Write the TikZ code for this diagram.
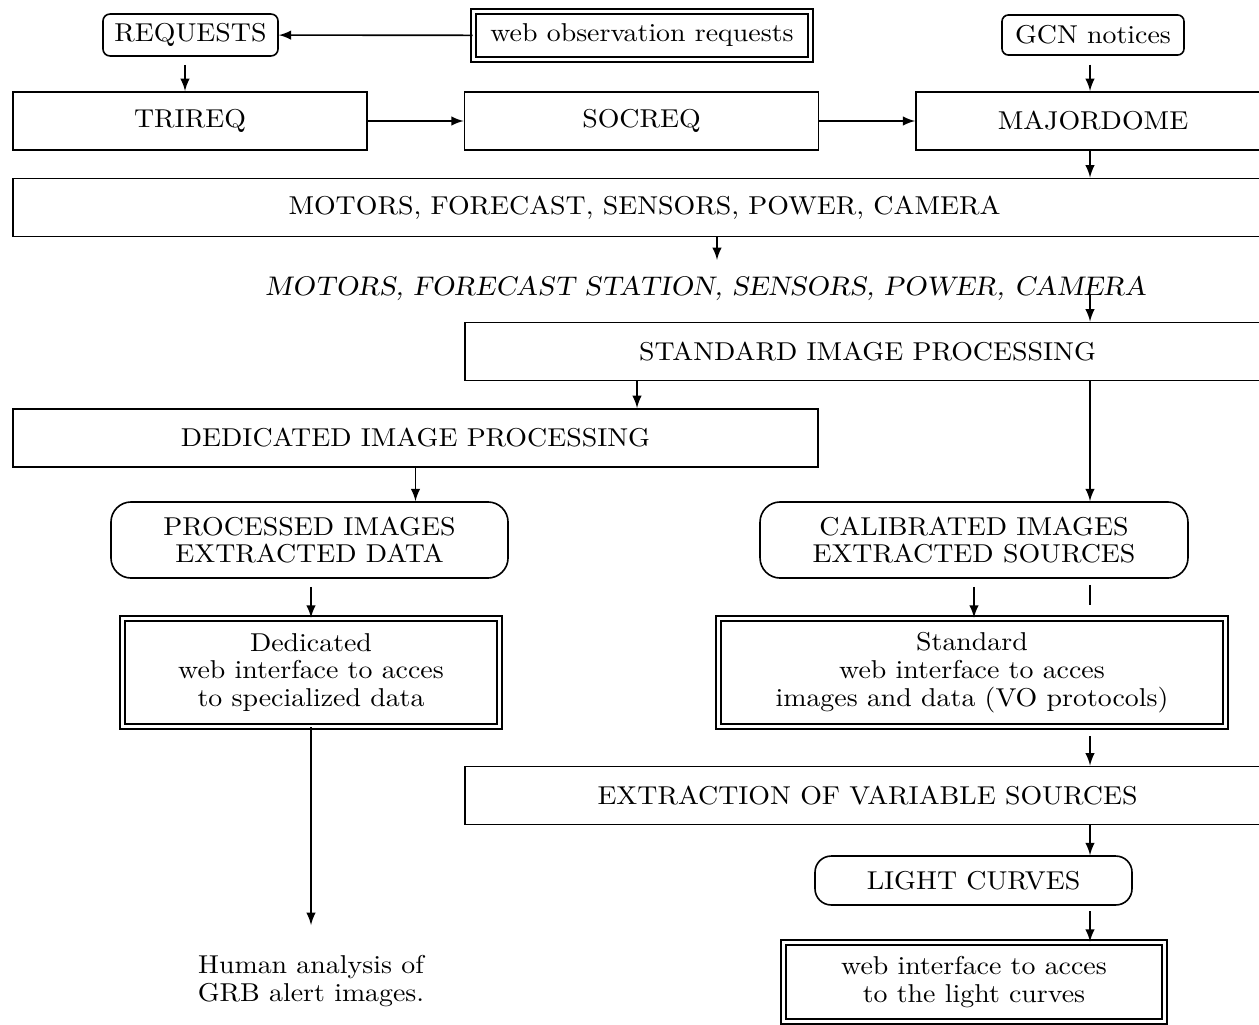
\documentclass[tikz,border=0pt]{standalone}
\usepackage{amsmath}
\usepackage{fontspec}
\setmainfont{lmroman10-regular.otf}[FakeStretch=1.08,
    ItalicFont=lmroman10-italic.otf,
    SlantedFont=lmromanslant10-regular.otf]
\usepackage{tikz}
\usetikzlibrary{arrows}

\begin{document}
\begin{tikzpicture}[x=0.372pt,y=-0.372pt,line width=0.6pt,>=latex,
    every node/.style={font=\fontsize{9.6}{10.3}\selectfont,align=center,inner sep=0pt},
    box/.style={draw,minimum width=#1,minimum height=21.7pt},
    rbox/.style={draw,rounded corners=#1},
    dbox/.style={draw,double,double distance=1.4pt}]
    \useasboundingbox (0,0) rectangle (1259,1024);
    \coordinate (qcol) at (185,0);
    \coordinate (scol) at (637,0);
    \coordinate (mcol) at (717,0);
    \coordinate (rcol) at (1090,0);
    \node[rbox=2.6pt,minimum width=65.1pt,minimum height=15.6pt] (req) at (190.5,35) {REQUESTS};
    \node[dbox,minimum width=125.4pt,minimum height=17.9pt] (web) at (642,35.5) {web observation requests};
    \node[rbox=2.4pt,minimum width=67.7pt,minimum height=14.9pt] (gcn) at (1093,35) {GCN notices};
    \node[box=131.7pt] (tri) at (190,121) {TRIREQ};
    \node[box=131.7pt] (soc) at (641.5,121) {SOCREQ};
    \node[box=131.7pt] (maj) at (1093,121) {MAJORDOME};
    \node[box=469.8pt] (mot) at (644.5,207.5) {MOTORS, FORECAST, SENSORS, POWER, CAMERA};
    \node[font=\fontsize{10}{10.3}\selectfont] (hw) at (706,288) {\textsl{MOTORS, FORECAST STATION, SENSORS, POWER, CAMERA}};
    \node[box=299.5pt] (std) at (867.5,351.5) {STANDARD IMAGE PROCESSING};
    \node[box=299.5pt] (ded) at (415.5,438) {DEDICATED IMAGE PROCESSING};
    \node[rbox=7.5pt,minimum width=147.7pt,minimum height=28.3pt] (proc) at (309.5,540) {PROCESSED IMAGES\\EXTRACTED DATA};
    \node[rbox=7.5pt,minimum width=159.2pt,minimum height=28.3pt] (cal) at (974,540) {CALIBRATED IMAGES\\EXTRACTED SOURCES};
    \node[dbox,minimum width=140.2pt,minimum height=40.2pt] (dweb) at (311,672.5) {Dedicated\\web interface to acces\\to specialized data};
    \node[dbox,minimum width=188.6pt,minimum height=40.2pt] (sweb) at (972,672.5) {Standard\\web interface to acces\\images and data (VO protocols)};
    \node[box=299.5pt] (ext) at (867.5,795.5) {EXTRACTION OF VARIABLE SOURCES};
    \node[rbox=6pt,minimum width=117.9pt,minimum height=18.2pt] (lc) at (973.5,880.5) {LIGHT CURVES};
    \node[dbox,minimum width=141.7pt,minimum height=29.4pt] (lweb) at (974,982) {web interface to acces\\to the light curves};
    \node (hum) at (311,981) {Human analysis of\\GRB alert images.};
    \draw[->] (web) edge (req)
              (tri) edge (soc)
              (soc) edge (maj);
    \draw[->,shorten <=3pt] (req.south -| qcol) -- (tri.north -| qcol);
    \draw[->,shorten <=3.3pt] (gcn.south -| rcol) -- (maj.north -| rcol);
    \draw[->] (maj.south -| rcol) -- (mot.north -| rcol);
    \draw[->,shorten >=5.6pt] (mot.south -| mcol) -- (hw.north -| mcol);
    \draw[->] (hw.base -| rcol) -- (std.north -| rcol);
    \draw[->] (std.south -| scol) -- (ded.north -| scol);
    \draw[->] (std.south -| rcol) -- (cal.north -| rcol);
    \draw[->] (ded.south) -- (ded.south |- proc.north);
    \draw[->,shorten <=3pt] (proc.south -| dweb) -- (dweb.north);
    \draw[->,shorten <=3pt] (cal.south) -- (cal.south |- sweb.north);
    \draw[shorten <=2.2pt,shorten >=4.8pt] (cal.south -| rcol) -- (sweb.north -| rcol);
    \draw[->,shorten <=3.3pt] (sweb.south -| rcol) -- (ext.north -| rcol);
    \draw[->,shorten >=11pt] (dweb.south) -- (hum.north);
    \draw[->] (ext.south -| rcol) -- (lc.north -| rcol);
    \draw[->,shorten <=2pt] (lc.south -| rcol) -- (lweb.north -| rcol);
\end{tikzpicture}
\end{document}
